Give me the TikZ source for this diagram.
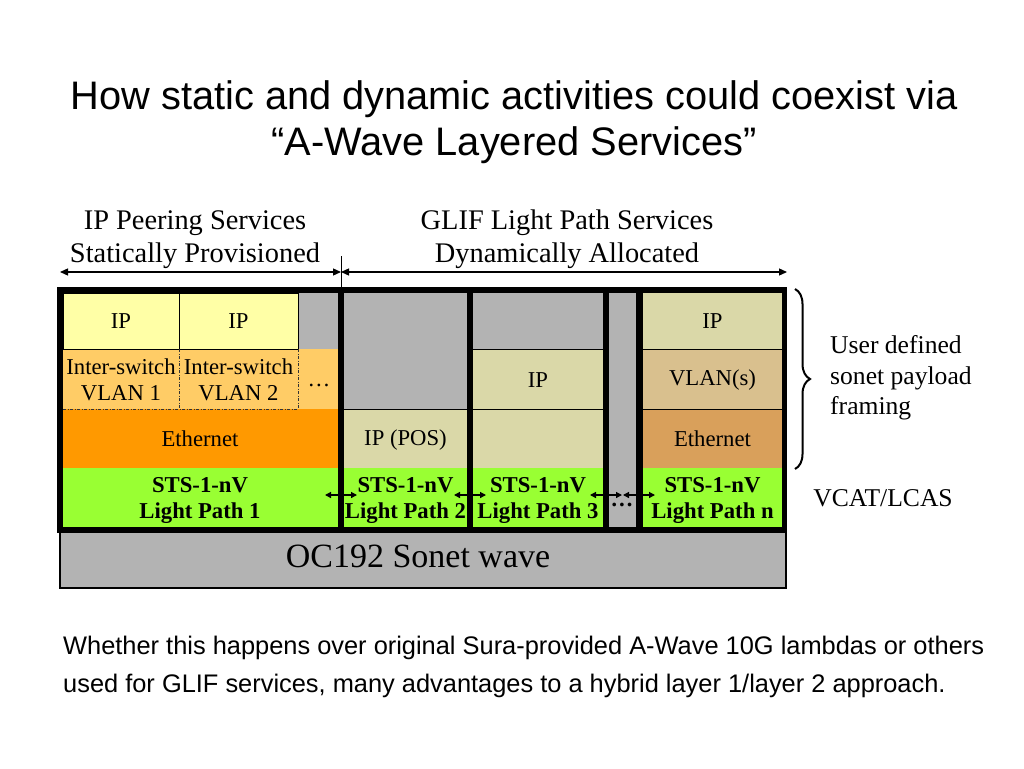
\documentclass[tikz,border=0pt]{standalone}
\usepackage{fontspec}
\setmainfont{Liberation Serif}
\newfontfamily\arialf{Liberation Sans}
\usetikzlibrary{arrows.meta,decorations.pathreplacing}
\definecolor{ipy}{HTML}{FFFFA6}
\definecolor{vlanc}{HTML}{FFCC66}
\definecolor{ethc}{HTML}{FF9900}
\definecolor{grn}{HTML}{99FF33}
\definecolor{gry}{HTML}{B3B3B3}
\definecolor{beige}{HTML}{DAD8A8}
\definecolor{vlans}{HTML}{D9C08E}
\definecolor{ethn}{HTML}{D9A05B}
\tikzset{
  thinln/.style={draw=black,line width=0.9},
  dashdotln/.style={draw=black!80,line width=0.9,dash pattern=on 3pt off 1.5pt on 1pt off 1.5pt},
  celltext/.style={font=\fontsize{22.7}{26}\selectfont,align=center,inner sep=0},
  boldtext/.style={font=\fontsize{22.7}{26}\selectfont\bfseries,align=center,inner sep=0},
  hdrtext/.style={font=\fontsize{28.4}{33}\selectfont,align=center,inner sep=0},
  sidetext/.style={font=\fontsize{25.6}{30.7}\selectfont,align=left,inner sep=0},
  dblarrow/.style={line width=1.3,{Triangle[length=6,width=6]}-{Triangle[length=6,width=6]}},
  toparrow/.style={line width=1.3,{Triangle[length=8,width=7]}-{Triangle[length=8,width=7]}}
}
\begin{document}
\begin{tikzpicture}[x=1pt,y=-1pt]
\useasboundingbox (0,0) rectangle (1024,768);
\fill[white] (0,0) rectangle (1024,768);

% title
\node[font=\arialf\fontsize{39.8}{46}\selectfont,anchor=base,inner sep=0] (t1) at (514,109) {How static and dynamic activities could coexist via};
\node[font=\arialf\fontsize{39.8}{46}\selectfont,anchor=base,inner sep=0] (t2) at (514,155) {“A-Wave Layered Services”};

% headers
\node[hdrtext,anchor=base] (h1a) at (195,229) {IP Peering Services};
\node[hdrtext,anchor=base] (h1b) at (195,262) {Statically Provisioned};
\node[hdrtext,anchor=base] (h2a) at (567,229) {GLIF Light Path Services};
\node[hdrtext,anchor=base] (h2b) at (567,262) {Dynamically Allocated};

\coordinate (aL) at (60,272);
\coordinate (aM) at (341,272);
\coordinate (aR) at (787,272);
\coordinate (tkT) at (341,256);
\coordinate (tkB) at (341,290);
\draw[line width=1] (tkT) -- (tkB);
\draw[toparrow] (aL) -- (aM);
\draw[toparrow] (aM) -- (aR);

% OC192 wave
\draw[fill=gry,line width=1.3] (60,530) rectangle (786,588);
\node[font=\fontsize{34}{40}\selectfont,inner sep=0] (oc) at (418,556) {OC192 Sonet wave};

% black frame
\fill[black] (57,287) rectangle (787,533);

% section 1
\fill[gry] (298,293) rectangle (338,349);
\fill[vlanc] (63,349) rectangle (338,409);
\fill[ethc] (63,409) rectangle (338,468);
\fill[grn] (63,468) rectangle (338,527);
\draw[thinln,fill=ipy] (63,293) rectangle (179,349);
\draw[thinln,fill=ipy] (179,293) rectangle (298,349);
\draw[dashdotln] (179,349) -- (179,409);
\draw[dashdotln] (298,349) -- (298,409);
\draw[dashdotln] (63,409) -- (298,409);

% section 2
\fill[gry] (344,293) rectangle (467,409);
\fill[beige] (344,409) rectangle (467,468);
\fill[grn] (344,468) rectangle (467,527);
\draw[thinln] (344,409) -- (467,409);

% section 3
\fill[gry] (473,293) rectangle (603,349);
\fill[beige] (473,349) rectangle (603,468);
\fill[grn] (473,468) rectangle (603,527);
\draw[thinln] (473,349) -- (603,349);
\draw[thinln] (473,409) -- (603,409);

% gray column
\fill[gry] (609,293) rectangle (636,527);

% section n
\fill[beige] (643,293) rectangle (782,349);
\fill[vlans] (643,349) rectangle (782,409);
\fill[ethn] (643,409) rectangle (782,468);
\fill[grn] (643,468) rectangle (782,527);
\draw[thinln] (643,349) -- (782,349);
\draw[thinln] (643,409) -- (782,409);

% cell texts
\node[celltext] (ip1) at (121,321) {IP};
\node[celltext] (ip2) at (238.5,321) {IP};
\node[celltext] (vl1) at (121,380) {Inter-switch\\VLAN 1};
\node[celltext] (vl2) at (238.5,380) {Inter-switch\\VLAN 2};
\node[celltext] (dots1) at (319,385) {…};
\node[celltext] (eth1) at (200,439) {Ethernet};
\node[boldtext] (lp1) at (200,500) {STS-1-nV\\Light Path 1};

\node[celltext] (pos) at (405.5,440) {IP (POS)};
\node[boldtext] (lp2) at (405.5,500) {STS-1-nV\\Light Path 2};

\node[celltext] (ip3) at (538,380) {IP};
\node[boldtext] (lp3) at (538,500) {STS-1-nV\\Light Path 3};

\node[celltext] (ipn) at (712.5,321) {IP};
\node[celltext] (vln) at (712.5,380) {VLAN(s)};
\node[celltext] (ethnt) at (712.5,439) {Ethernet};
\node[boldtext] (lpn) at (712.5,500) {STS-1-nV\\Light Path n};

\node[boldtext] (dots2) at (622,505) {…};

% arrows in light path row
\coordinate (g1a) at (325,495); \coordinate (g1b) at (357,495);
\coordinate (g2a) at (454,495); \coordinate (g2b) at (486,495);
\coordinate (g3a) at (590,495); \coordinate (g3b) at (622,495);
\coordinate (g4a) at (623,495); \coordinate (g4b) at (655,495);
\draw[dblarrow] (g1a) -- (g1b);
\draw[dblarrow] (g2a) -- (g2b);
\draw[dblarrow] (g3a) -- (g3b);
\draw[dblarrow] (g4a) -- (g4b);

% brace and side texts
\coordinate (brT) at (795,289);
\coordinate (brB) at (795,469);
\draw[line width=2,decorate,decoration={brace,amplitude=15}] (brT) -- (brB);
\node[sidetext,anchor=west] (ud) at (830,378) {User defined\\sonet payload\\framing};
\node[sidetext] (vcat) at (883,498) {VCAT/LCAS};

% bottom text
\node[font=\arialf\fontsize{25.4}{30}\selectfont,anchor=base west,inner sep=0] (b1) at (63,654) {Whether this happens over original Sura-provided A-Wave 10G lambdas or others};
\node[font=\arialf\fontsize{25.4}{30}\selectfont,anchor=base west,inner sep=0] (b2) at (63,692) {used for GLIF services, many advantages to a hybrid layer 1/layer 2 approach.};
\end{tikzpicture}
\end{document}
